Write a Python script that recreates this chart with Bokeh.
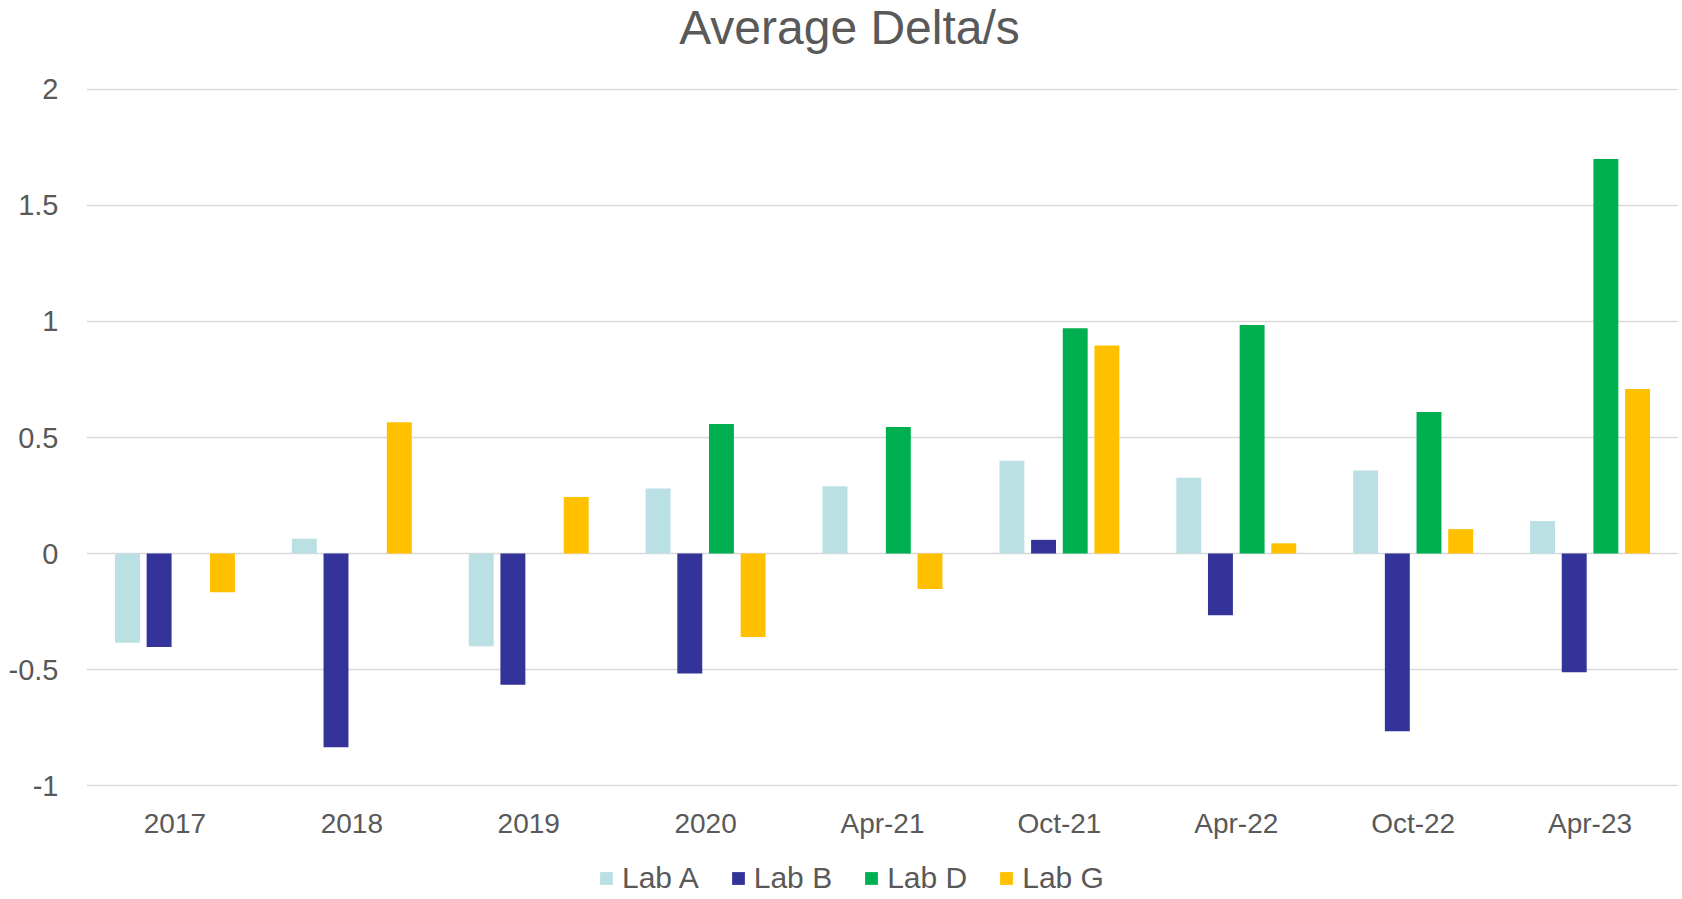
import numpy as np
from bokeh.plotting import figure
from bokeh.layouts import column
from bokeh.models import (ColumnDataSource, FactorRange, Range1d, FixedTicker,
                          CustomJSTickFormatter, Legend, LegendItem)
from bokeh.core.properties import value
from bokeh.transform import dodge
from bokeh.embed import file_html
from bokeh.resources import INLINE

title_text = ["Average Delta/s"]
categories = ["2017", "2018", "2019", "2020", "Apr-21", "Oct-21", "Apr-22", "Oct-22", "Apr-23"]
lab_a = [-0.385, 0.064, -0.40, 0.28, 0.29, 0.40, 0.327, 0.358, 0.14]
lab_b = [-0.403, -0.835, -0.565, -0.517, np.nan, 0.059, -0.266, -0.766, -0.512]
lab_d = [np.nan, np.nan, np.nan, 0.558, 0.545, 0.971, 0.985, 0.61, 1.70]
lab_g = [-0.167, 0.566, 0.244, -0.36, -0.153, 0.896, 0.044, 0.105, 0.709]
series_names = ["Lab A", "Lab B", "Lab D", "Lab G"]
y_ticks = [-1, -0.5, 0, 0.5, 1, 1.5, 2]

colors = ["#BBE0E3", "#333399", "#00B050", "#FFC000"]
FONT = "Liberation Sans"
TXT = "#595959"
W = 1678
LEFT = 86


def strip(h, xr, yr):
    f = figure(width=W, height=h, x_range=xr, y_range=yr, output_backend="svg",
               toolbar_location=None, x_axis_location=None, y_axis_location=None,
               min_border_left=LEFT, min_border_right=0, min_border_top=0,
               min_border_bottom=0)
    f.outline_line_color = None
    f.xgrid.grid_line_color = None
    f.ygrid.grid_line_color = None
    f.background_fill_color = "white"
    f.border_fill_color = "white"
    return f


# title strip: its frame uses page-like pixel coordinates
tt = strip(64, Range1d(LEFT, W), Range1d(64, 0))
tt.text(x=[849], y=[27], text=title_text, text_align="center",
        text_baseline="alphabetic", text_font=value(FONT), text_font_size="48px",
        text_color=TXT)

source = ColumnDataSource(dict(cat=categories,
                               a=np.array(lab_a, dtype=float),
                               b=np.array(lab_b, dtype=float),
                               d=np.array(lab_d, dtype=float),
                               g=np.array(lab_g, dtype=float)))

p = figure(width=W, height=795, x_range=FactorRange(*categories, range_padding=0),
           y_range=Range1d(-1.004, 2.004), output_backend="svg", toolbar_location=None,
           min_border_left=LEFT, min_border_right=0, min_border_top=24,
           min_border_bottom=73)
p.outline_line_color = None
p.background_fill_color = "white"
p.border_fill_color = "white"

pitch = 0.179
width = 0.141
for i, col in enumerate(["a", "b", "d", "g"]):
    p.vbar(x=dodge("cat", (i - 1.5) * pitch, range=p.x_range), top=col, bottom=0,
           width=width, source=source, fill_color=colors[i], line_color=None)

p.xgrid.grid_line_color = None
p.ygrid.grid_line_color = "#D9D9D9"
p.ygrid.grid_line_width = 1.5
p.ygrid.ticker = FixedTicker(ticks=y_ticks)

p.yaxis.ticker = FixedTicker(ticks=y_ticks)
p.yaxis.formatter = CustomJSTickFormatter(code="return tick.toString();")
p.yaxis.axis_line_color = None
p.yaxis.major_tick_line_color = None
p.yaxis.minor_tick_line_color = None
p.yaxis.major_tick_out = 0
p.yaxis.major_label_standoff = 28
p.yaxis.major_label_text_font = FONT
p.yaxis.major_label_text_font_size = "29px"
p.yaxis.major_label_text_color = TXT

p.xaxis.axis_line_color = None
p.xaxis.major_tick_line_color = None
p.xaxis.major_tick_out = 0
p.xaxis.major_label_standoff = 21
p.xaxis.major_label_text_font = FONT
p.xaxis.major_label_text_font_size = "28px"
p.xaxis.major_label_text_color = TXT

# legend strip
lg = strip(36, Range1d(0, 1), Range1d(0, 1))
items = []
for i, name in enumerate(series_names):
    r = lg.vbar(x=[5], top=[1], width=0.1, fill_color=colors[i], line_color=None)
    items.append(LegendItem(label=name, renderers=[r]))
legend = Legend(items=items, orientation="horizontal", location=(512, 0),
                glyph_width=16, glyph_height=16, label_standoff=8, spacing=31,
                label_height=34,
                label_text_font=FONT, label_text_font_size="30px",
                label_text_color=TXT, border_line_color=None,
                background_fill_alpha=0, padding=0, margin=0)
lg.add_layout(legend, "center")

layout = column(tt, p, lg, spacing=0)
open("out.html", "w").write(file_html(layout, INLINE))
